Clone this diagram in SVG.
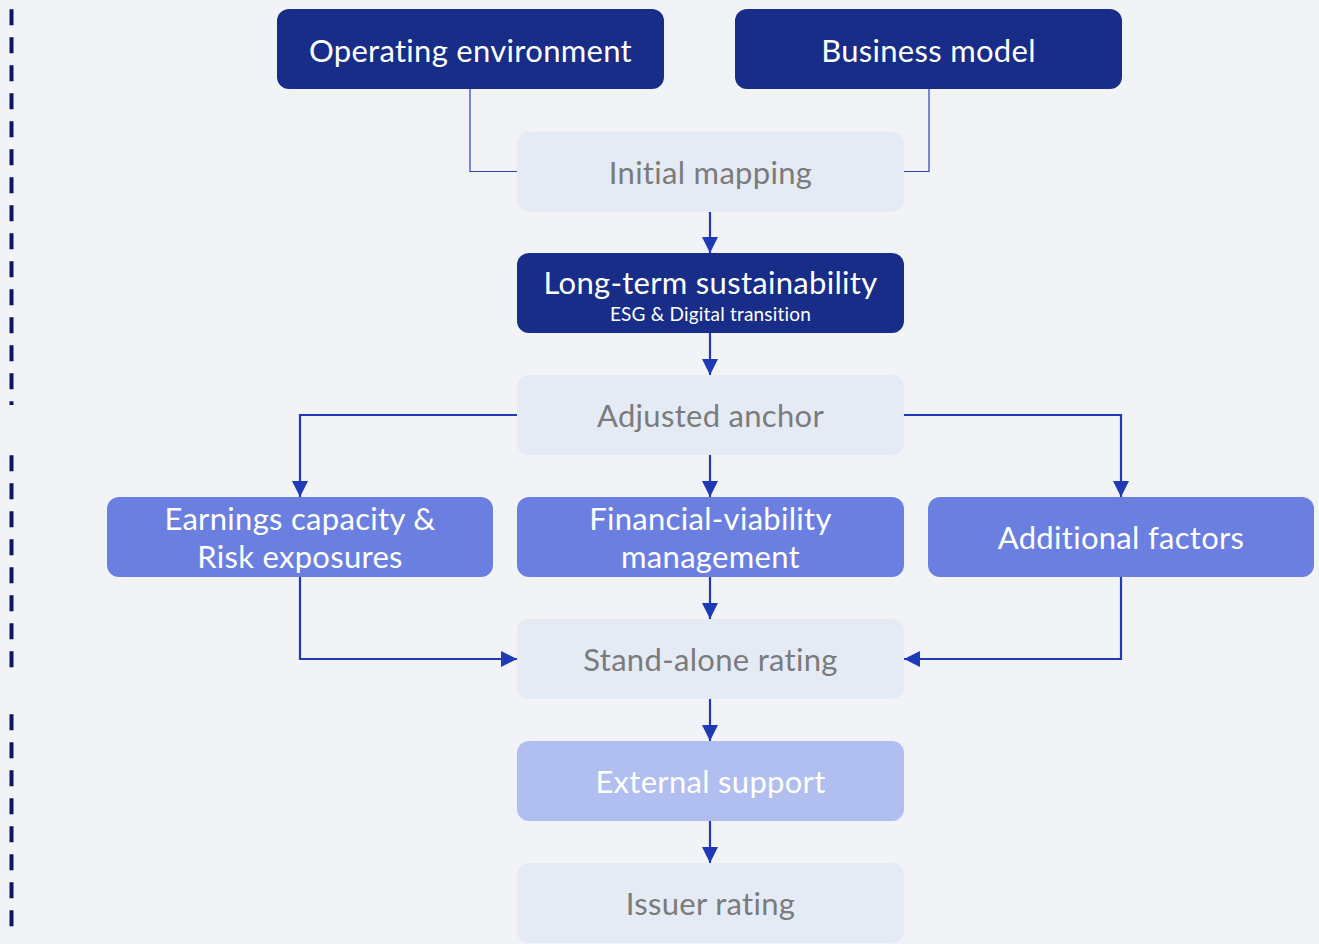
<svg xmlns="http://www.w3.org/2000/svg" width="1319" height="944" viewBox="0 0 1319 944">
<defs>
<style>
.dark{fill:#172d87}
.mid{fill:#6a7fe0}
.light{fill:#b1bef0}
.pale{fill:#e4ebf4}
.t{font-family:Lato,"Open Sans","Liberation Sans",sans-serif;font-size:31px;text-anchor:middle;font-variant-ligatures:none;letter-spacing:0.3px}
.w{fill:#ffffff}
.g{fill:#7b7b7b}
.sub{font-size:19px;letter-spacing:0.2px}
.conn{fill:none;stroke:#1e3ab4;stroke-width:2.2}
.thin{fill:none;stroke:#2a3fb8;stroke-width:1.2}
.dash{stroke:#0b1760;stroke-width:4;stroke-dasharray:16 12}
</style>
<marker id="ah" viewBox="0 0 16 16" refX="16" refY="8" markerWidth="16" markerHeight="16" markerUnits="userSpaceOnUse" orient="auto">
<path d="M0,0 L16,8 L0,16 Z" fill="#1e3ab4"/>
</marker>
</defs>
<rect width="1319" height="944" fill="#f1f3f7"/>
<g id="sidebar">
<line class="dash" x1="11.5" y1="9.3" x2="11.5" y2="405"/>
<line class="dash" x1="11.5" y1="455.3" x2="11.5" y2="668"/>
<line class="dash" x1="11.5" y1="714.3" x2="11.5" y2="927"/>
</g>
<g id="connectors">
<polyline class="thin" points="470,89 470,171.5 517,171.5"/>
<polyline class="thin" points="929,89 929,171.5 904,171.5"/>
<line class="conn" x1="710" y1="212" x2="710" y2="253" marker-end="url(#ah)"/>
<line class="conn" x1="710" y1="333" x2="710" y2="375" marker-end="url(#ah)"/>
<line class="conn" x1="710" y1="455" x2="710" y2="497" marker-end="url(#ah)"/>
<polyline class="conn" points="517,415 300,415 300,497" marker-end="url(#ah)"/>
<polyline class="conn" points="904,415 1121,415 1121,497" marker-end="url(#ah)"/>
<line class="conn" x1="710" y1="577" x2="710" y2="619" marker-end="url(#ah)"/>
<polyline class="conn" points="300,577 300,659 517,659" marker-end="url(#ah)"/>
<polyline class="conn" points="1121,577 1121,659 904,659" marker-end="url(#ah)"/>
<line class="conn" x1="710" y1="699" x2="710" y2="741" marker-end="url(#ah)"/>
<line class="conn" x1="710" y1="821" x2="710" y2="863" marker-end="url(#ah)"/>
</g>
<g id="operating-environment">
<rect class="dark" x="277" y="9" width="387" height="80" rx="12"/>
<text class="t w" x="470.5" y="62">Operating environment</text>
</g>
<g id="business-model">
<rect class="dark" x="735" y="9" width="387" height="80" rx="12"/>
<text class="t w" x="928.5" y="62">Business model</text>
</g>
<g id="initial-mapping">
<rect class="pale" x="517" y="131.5" width="387" height="80" rx="12"/>
<text class="t g" x="710.5" y="184">Initial mapping</text>
</g>
<g id="long-term-sustainability">
<rect class="dark" x="517" y="253" width="387" height="80" rx="12"/>
<text class="t w" x="710.5" y="294">Long-term sustainability</text>
<text class="t w sub" x="710.5" y="321">ESG &amp; Digital transition</text>
</g>
<g id="adjusted-anchor">
<rect class="pale" x="517" y="375" width="387" height="80" rx="12"/>
<text class="t g" x="710.5" y="427">Adjusted anchor</text>
</g>
<g id="earnings-capacity">
<rect class="mid" x="107" y="497" width="386" height="80" rx="12"/>
<text class="t w" x="300" y="530">Earnings capacity &amp;</text>
<text class="t w" x="300" y="568">Risk exposures</text>
</g>
<g id="financial-viability">
<rect class="mid" x="517" y="497" width="387" height="80" rx="12"/>
<text class="t w" x="710.5" y="530">Financial-viability</text>
<text class="t w" x="710.5" y="568">management</text>
</g>
<g id="additional-factors">
<rect class="mid" x="928" y="497" width="386" height="80" rx="12"/>
<text class="t w" x="1121" y="549">Additional factors</text>
</g>
<g id="stand-alone-rating">
<rect class="pale" x="517" y="619" width="387" height="80" rx="12"/>
<text class="t g" x="710.5" y="671">Stand-alone rating</text>
</g>
<g id="external-support">
<rect class="light" x="517" y="741" width="387" height="80" rx="12"/>
<text class="t w" x="710.5" y="793">External support</text>
</g>
<g id="issuer-rating">
<rect class="pale" x="517" y="863" width="387" height="80" rx="12"/>
<text class="t g" x="710.5" y="915">Issuer rating</text>
</g>
</svg>
